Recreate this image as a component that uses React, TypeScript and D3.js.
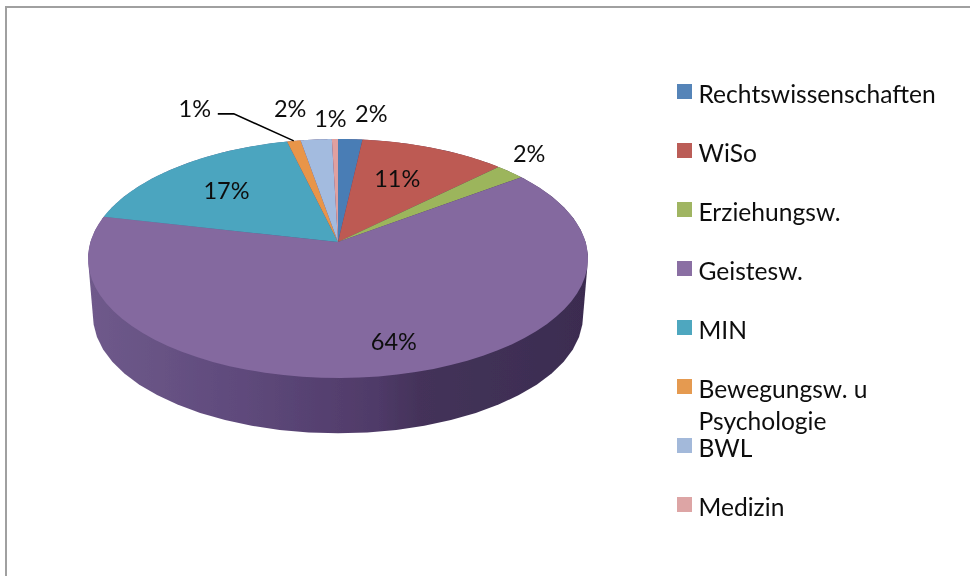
import React from "react";
import * as d3 from "d3";

const categories = ["Rechtswissenschaften", "WiSo", "Erziehungsw.", "Geistesw.", "MIN", "Bewegungsw. u Psychologie", "BWL", "Medizin"];
const shares = [1.8, 10.8, 2.2, 63.8, 17.7, 1.0, 2.3, 0.45];
const percentLabels = ["2%", "11%", "2%", "64%", "17%", "1%", "2%", "1%"];
const colors = ["#5584b8", "#bb5d57", "#a0b562", "#8a6fa3", "#4ea7bf", "#e59a50", "#a3b9da", "#dda5a5"];
const faceColors = ["#4a7db5", "#bd5a52", "#9cb55c", "#84699f", "#4ba5bf", "#e8954a", "#a3bbdf", "#e0a0a0"];
const labelOffsets = [[21, -26], [-37, 30], [19, -19], [-3.5, -33.5], [49, 23], [-99, -33], [-26, -31], [-4.5, -21]];
const legendLines = [["Rechtswissenschaften"], ["WiSo"], ["Erziehungsw."], ["Geistesw."], ["MIN"], ["Bewegungsw. u", "Psychologie"], ["BWL"], ["Medizin"]];

const W = 970, H = 576;
const apex = { x: 338, y: 242 };
const k = 0.138, a = 247.6, b = 117.2;
const FONT = "Lato, Carlito, Calibri, sans-serif";

const project = (r: number, t: number, ox = apex.x, oy = apex.y, sx = 1): [number, number] => {
  const u = r * Math.sin(t), v = -r * Math.cos(t), w = 1 - k * v;
  return [ox + sx * a * u / w, oy + sx * b * v / w];
};
const sample = (t0: number, t1: number) => d3.range(0, 61).map((i) => t0 + (t1 - t0) * i / 60);
const closed = d3.line().curve(d3.curveLinearClosed);

const arcs = d3.pie<number>().sort(null).value((d) => d)(shares);

export default function App() {
  const full = sample(0, 2 * Math.PI);
  const topPts = full.map((t) => project(1, t));
  const botPts = full.map((t) => project(1, t, apex.x, apex.y + 58, 0.98));
  const hull = d3.polygonHull([...topPts, ...botPts]) as [number, number][];
  const legendY = d3.scalePoint<string>().domain(categories).range([91.5, 504.5]);
  const mids = arcs.map((d) => (d.startAngle + d.endAngle) / 2);
  const labelPos = mids.map((m, i) => {
    const [x, y] = project(1, m);
    return [x + labelOffsets[i][0], y + labelOffsets[i][1]];
  });
  const leadIdx = 5;
  const leadEnd = project(1, mids[leadIdx]);
  const leadStart = [labelPos[leadIdx][0] + 23, labelPos[leadIdx][1] + 6];
  const leader = d3.line()([leadStart as [number, number], [leadStart[0] + 16, leadStart[1]], leadEnd]);

  return (
    <svg width={W} height={H} viewBox={`0 0 ${W} ${H}`} style={{ position: "absolute", left: 0, top: 0, background: "#fff" }}>
      <defs>
        <linearGradient id="side" x1="0" x2="1" y1="0" y2="0">
          <stop offset="0" stopColor="#6f5a8b" />
          <stop offset="0.3" stopColor="#5f4a7c" />
          <stop offset="0.58" stopColor="#4f3a68" />
          <stop offset="0.66" stopColor="#44335a" />
          <stop offset="1" stopColor="#3b2c50" />
        </linearGradient>
        <filter id="soft" x="-5%" y="-5%" width="110%" height="110%">
          <feGaussianBlur stdDeviation="0.5" />
        </filter>
        <filter id="softText" x="-5%" y="-5%" width="110%" height="110%">
          <feGaussianBlur stdDeviation="0.25" />
        </filter>
      </defs>
      <path d="M6 576V7H970" fill="none" stroke="#a0a0a0" strokeWidth={2} />
      <g filter="url(#soft)">
        <path d={closed(hull) as string} fill="url(#side)" />
        {arcs.map((d, i) => {
          const pts = [[apex.x, apex.y] as [number, number], ...sample(d.startAngle, d.endAngle).map((t) => project(1, t))];
          return <path key={i} d={closed(pts) as string} fill={faceColors[i]} />;
        })}
      </g>
      <path d={leader as string} fill="none" stroke="#000" strokeWidth={1.6} />
      <g filter="url(#softText)">
        {labelPos.map(([x, y], i) => (
          <text key={i} x={x} y={y} textAnchor="middle" dominantBaseline="central" fontFamily={FONT} fontSize={23.5} fill="#111">
            {percentLabels[i]}
          </text>
        ))}
      </g>
      {categories.map((c, i) => {
        const y = legendY(c) as number;
        return (
          <g key={c}>
            <rect x={677} y={y - 7.5} width={15} height={15} fill={colors[i]} />
            <g filter="url(#softText)">
              {legendLines[i].map((line, j) => (
                <text key={j} x={698.5} y={y + 11 + j * 32} fontFamily={FONT} fontSize={24.6} fill="#111">
                  {line}
                </text>
              ))}
            </g>
          </g>
        );
      })}
    </svg>
  );
}
